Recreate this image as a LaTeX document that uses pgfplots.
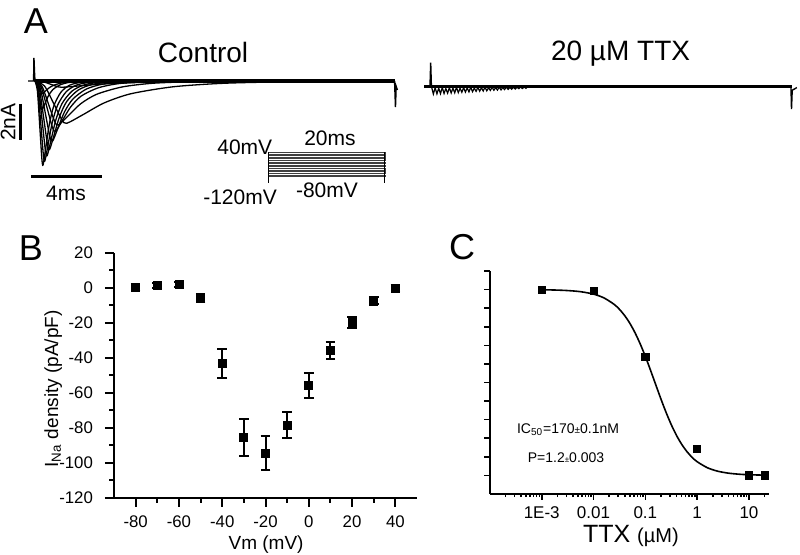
\documentclass[border=0pt]{standalone}
\usepackage{pgfplots}
\pgfplotsset{compat=1.18}
\usepackage{fontspec}
\setmainfont{Liberation Sans}
\pgfplotsset{trace/.style={no marks, black, line width=0.65pt, smooth, tension=0.45}}
\begin{document}
\begin{tikzpicture}
\useasboundingbox (0,0) rectangle (400pt,277.5pt);
\node[font=\fontsize{18}{18}\selectfont] at (18pt,267pt) {A};
\node[font=\fontsize{18}{18}\selectfont] at (15.5pt,153.5pt) {B};
\node[font=\fontsize{18}{18}\selectfont] at (231pt,154pt) {C};
% ---------- A: control ----------
\begin{axis}[at={(0.6pt,178.5pt)}, anchor=south west, scale only axis,
  width=203.81pt, height=76.5pt, xmin=-1.9, xmax=21, ymin=-6.5, ymax=2,
  hide axis, clip=false]
\addplot[trace] coordinates {(0,0)(0.135,-0.56)(0.27,-2.57)(0.383,-4.30)(0.45,-4.67)(0.6,-3.74)(0.8,-2.43)(1.05,-1.40)(1.45,-0.63)(1.95,-0.23)(2.7,-0.05)(3.7,-0.007)(6,0)};
\addplot[trace] coordinates {(0,0)(0.165,-0.53)(0.33,-2.45)(0.468,-4.09)(0.55,-4.45)(0.73,-3.56)(0.97,-2.31)(1.27,-1.34)(1.75,-0.60)(2.35,-0.22)(3.25,-0.05)(4.45,-0.007)(7,0)};
\addplot[trace] coordinates {(0,0)(0.204,-0.50)(0.408,-2.28)(0.578,-3.82)(0.68,-4.15)(0.89,-3.32)(1.17,-2.16)(1.52,-1.25)(2.08,-0.56)(2.78,-0.21)(3.83,-0.046)(5.23,-0.006)(8,0)};
\addplot[trace] coordinates {(0,0)(0.246,-0.46)(0.492,-2.09)(0.697,-3.50)(0.82,-3.8)(1.06,-3.04)(1.38,-1.98)(1.78,-1.14)(2.42,-0.51)(3.22,-0.19)(4.42,-0.042)(6.02,-0.006)(9,0)};
\addplot[trace] coordinates {(0,0)(0.294,-0.40)(0.588,-1.84)(0.833,-3.08)(0.98,-3.35)(1.265,-2.68)(1.645,-1.74)(2.12,-1.01)(2.88,-0.45)(3.83,-0.17)(5.255,-0.037)(7.155,-0.005)(10,0)};
\addplot[trace] coordinates {(0,0)(0.345,-0.34)(0.69,-1.54)(0.978,-2.58)(1.15,-2.8)(1.51,-2.24)(1.99,-1.46)(2.59,-0.84)(3.55,-0.38)(4.75,-0.14)(6.55,-0.031)(8.95,-0.004)(12,0)};
\addplot[trace] coordinates {(0,0)(0.39,-0.29)(0.78,-1.35)(1.105,-2.25)(1.3,-2.45)(1.84,-1.96)(2.56,-1.27)(3.46,-0.74)(4.9,-0.33)(6.7,-0.12)(9.4,-0.027)(13.0,-0.004)(16,0)};
\addplot[trace] coordinates {(0,0)(0.534,-0.28)(1.068,-1.29)(1.513,-2.16)(1.78,-2.35)(2.68,-1.88)(3.88,-1.22)(5.38,-0.71)(7.78,-0.32)(10.78,-0.12)(15.28,-0.026)(20.2,0)};
\addplot[trace] coordinates {(0,0)(0.12,-0.19)(0.24,-0.88)(0.34,-1.47)(0.4,-1.6)(0.55,-1.28)(0.75,-0.83)(1.0,-0.48)(1.4,-0.22)(1.9,-0.08)(2.65,-0.018)(4,0)};
\addplot[trace] coordinates {(0,0)(0.12,-0.08)(0.24,-0.39)(0.34,-0.64)(0.4,-0.7)(0.58,-0.56)(0.82,-0.36)(1.12,-0.21)(1.6,-0.09)(2.2,-0.035)(3.5,0)};
\addplot[trace] coordinates {(0,0)(0.45,-0.04)(0.9,-0.19)(1.275,-0.32)(1.5,-0.35)(2.4,-0.28)(3.6,-0.18)(5.1,-0.105)(7.5,-0.047)(10.5,-0.018)(14,0)};
% thick baseline and artifacts
\addplot[black, line width=1.6pt] coordinates {(0,0)(20.22,0)};
\addplot[black, line width=0.7pt] coordinates {(-0.39,0)(-0.08,0)(-0.06,1.28)(-0.02,0.3)(0,0)};
\addplot[black, line width=0.7pt] coordinates {(20.2,0)(20.25,-1.45)(20.29,-0.3)(20.36,-0.5)};
% scale bars
\addplot[black, line width=1.5pt] coordinates {(-0.843,-1.278)(-0.843,-3.278)};
\addplot[black, line width=1.5pt] coordinates {(-0.225,-5.333)(3.775,-5.333)};
% voltage protocol
\addplot[black!75, line width=0.35pt] coordinates {(13.09,-3.96)(19.66,-3.96)(19.66,-4.05)(13.09,-4.05)(13.09,-4.14)(19.66,-4.14)(19.66,-4.23)(13.09,-4.23)(13.09,-4.32)(19.66,-4.32)(19.66,-4.41)(13.09,-4.41)(13.09,-4.50)(19.66,-4.50)(19.66,-4.59)(13.09,-4.59)(13.09,-4.68)(19.66,-4.68)(19.66,-4.77)(13.09,-4.77)(13.09,-4.86)(19.66,-4.86)(19.66,-4.95)(13.09,-4.95)(13.09,-5.04)(19.66,-5.04)(19.66,-5.13)(13.09,-5.13)(13.09,-5.22)(19.66,-5.22)(19.66,-5.32)(13.09,-5.32)};
\addplot[black, line width=0.5pt] coordinates {(13.09,-3.96)(13.09,-5.67)};
\addplot[black, line width=0.5pt] coordinates {(19.66,-3.96)(19.66,-5.67)};
\node[font=\fontsize{14}{16}\selectfont] at (axis cs:9.44,1.61) {Control};
\node[font=\fontsize{10.5}{12}\selectfont, rotate=90] at (axis cs:-1.52,-2.28) {2nA};
\node[font=\fontsize{10.5}{12}\selectfont] at (axis cs:1.74,-6.22) {4ms};
\node[font=\fontsize{10.5}{12}\selectfont, anchor=east, inner sep=0pt] at (axis cs:13.35,-3.69) {40mV};
\node[font=\fontsize{10.5}{12}\selectfont] at (axis cs:16.57,-3.17) {20ms};
\node[font=\fontsize{10.5}{12}\selectfont] at (axis cs:11.52,-6.44) {-120mV};
\node[font=\fontsize{10.5}{12}\selectfont] at (axis cs:16.4,-6.06) {-80mV};
\end{axis}
% ---------- A: TTX ----------
\begin{axis}[at={(206.45pt,216.15pt)}, anchor=south west, scale only axis,
  width=193.13pt, height=36pt, xmin=-1, xmax=20.7, ymin=-2, ymax=2,
  hide axis, clip=false]
\addplot[black, line width=1.5pt] coordinates {(-0.36,0)(20.27,0)};
\addplot[black, line width=0.6pt] coordinates {(0.05,-0.02)(0.15,-0.41)(0.25,-0.05)(0.35,-0.40)(0.45,-0.08)(0.55,-0.39)(0.65,-0.04)(0.75,-0.38)(0.85,-0.1)(0.95,-0.36)(1.05,-0.05)(1.15,-0.35)(1.25,-0.08)(1.35,-0.34)(1.45,-0.03)(1.55,-0.33)(1.65,-0.09)(1.75,-0.31)(1.85,-0.05)(1.95,-0.3)(2.05,-0.07)(2.15,-0.29)(2.25,-0.03)(2.35,-0.28)(2.45,-0.08)(2.55,-0.26)(2.65,-0.04)(2.75,-0.25)(2.85,-0.06)(2.95,-0.24)(3.05,-0.03)(3.15,-0.23)(3.25,-0.06)(3.35,-0.21)(3.45,-0.03)(3.55,-0.2)(3.65,-0.05)(3.75,-0.19)(3.85,-0.02)(3.95,-0.18)(4.05,-0.05)(4.15,-0.16)(4.25,-0.02)(4.35,-0.15)(4.45,-0.04)(4.55,-0.14)(4.65,-0.02)(4.75,-0.13)(4.85,-0.03)(4.95,-0.11)(5.05,-0.02)(5.15,-0.1)(5.25,-0.02)(5.35,-0.09)(5.45,0)};
\addplot[black, line width=0.7pt] coordinates {(-0.04,0)(0,1.33)(0.04,0)};
\addplot[black, line width=0.7pt] coordinates {(20.24,0)(20.27,-1.24)(20.31,-0.2)(20.57,-0.05)};
\node[font=\fontsize{14}{16}\selectfont] at (axis cs:10.67,1.86) {20 µM TTX};
\end{axis}
% ---------- B ----------
\begin{axis}[at={(57pt,28.5pt)}, anchor=south west, scale only axis,
  width=151.5pt, height=122.5pt, xmin=-90, xmax=50, ymin=-120, ymax=20,
  axis x line*=bottom, axis y line*=left, axis line style={line width=1pt,-},
  tick align=outside, major tick length=4.5pt, minor tick length=2.3pt,
  every tick/.append style={black, line width=1pt},
  xtick={-80,-60,-40,-20,0,20,40}, xticklabels={-80,-60,-40,-20,0,20,40},
  minor xtick={-70,-50,-30,-10,10,30},
  ytick={-120,-100,-80,-60,-40,-20,0,20}, yticklabels={-120,-100,-80,-60,-40,-20,0,20},
  minor ytick={-110,-90,-70,-50,-30,-10,10},
  tick label style={font=\fontsize{8.4}{9}\selectfont},
  yticklabel style={xshift=-2.5pt},
  xticklabel style={yshift=-1pt},
  clip=false]
\addplot[black, only marks, mark=square*, mark size=2pt,
  error bars/.cd, y dir=both, y explicit,
  error bar style={line width=1pt},
  error mark options={rotate=90, mark size=2.4pt, line width=1pt}]
  table[x=x, y=y, y error=e] {
x y e
-80 0.6 1.5
-70 1.4 1.5
-60 1.8 1.5
-50 -5.6 2.2
-40 -43.2 8.5
-30 -85.4 10.6
-20 -94.3 9.7
-10 -78.4 7.6
0 -55.5 7.1
10 -35.5 4.8
20 -19.6 3
30 -7.4 2
40 0 1.5
};
\node[font=\fontsize{9.5}{11}\selectfont, anchor=base] at (rel axis cs:0.502,-0.212) {Vm (mV)};
\node[font=\fontsize{9.5}{11}\selectfont, rotate=90] at (rel axis cs:-0.201,0.445) {I\textsubscript{Na} density (pA/pF)};
\end{axis}
% ---------- C ----------
\begin{axis}[at={(244.95pt,30.5pt)}, anchor=south west, scale only axis,
  width=139.4pt, height=111.5pt, xmode=log, xmin=1e-4, xmax=24, ymin=-0.1, ymax=1.1,
  axis x line*=bottom, axis y line*=left, axis line style={line width=1pt,-},
  tick align=outside, major tick length=2.8pt, minor tick length=1.6pt,
  every tick/.append style={black, line width=0.8pt},
  xtick={1e-3,1e-2,1e-1,1,10}, xticklabels={1E-3,0.01,0.1,1,10},
  minor xtick={2e-4,3e-4,4e-4,5e-4,6e-4,7e-4,8e-4,9e-4,2e-3,3e-3,4e-3,5e-3,6e-3,7e-3,8e-3,9e-3,0.02,0.03,0.04,0.05,0.06,0.07,0.08,0.09,0.2,0.3,0.4,0.5,0.6,0.7,0.8,0.9,2,3,4,5,6,7,8,9,20},
  ytick={0,0.1,0.2,0.3,0.4,0.5,0.6,0.7,0.8,0.9,1.0,1.1}, yticklabels={},
  tick label style={font=\fontsize{8.5}{9}\selectfont},
  clip=false]
\addplot[black, line width=0.8pt, smooth] coordinates {(0.001,0.9989)(0.001778,0.9976)(0.003162,0.9947)(0.005623,0.9886)(0.01,0.9755)(0.01585,0.9553)(0.02512,0.9199)(0.03162,0.8937)(0.03981,0.8604)(0.05012,0.8188)(0.0631,0.7680)(0.07943,0.7082)(0.1,0.6400)(0.1259,0.5658)(0.1585,0.4885)(0.1995,0.4117)(0.2512,0.3390)(0.3162,0.2732)(0.3981,0.2159)(0.5012,0.1679)(0.631,0.1289)(0.7943,0.0978)(1,0.0736)(1.585,0.0409)(2.512,0.0224)(3.981,0.0122)(6.31,0.0066)(10,0.0035)(19.95,0.0014)};
\addplot[black, only marks, mark=square*, mark size=1.8pt] coordinates {(0.001,1.0)(0.01,0.995)(0.1,0.637)(1,0.142)(10,0.0)(20,0.0)};
\node[font=\fontsize{7}{8}\selectfont] at (axis cs:0.00322,0.244) {IC\textsubscript{50}=170{\fontsize{5}{5}\selectfont ±}0.1nM};
\node[font=\fontsize{7}{8}\selectfont] at (axis cs:0.00295,0.093) {P=1.2{\fontsize{4}{4}\selectfont ±}0.003};
\node[anchor=base] at (rel axis cs:0.5056,-0.218) {\fontsize{12.5}{14}\selectfont TTX \fontsize{10}{12}\selectfont(µM)};
\end{axis}
\end{tikzpicture}
\end{document}
